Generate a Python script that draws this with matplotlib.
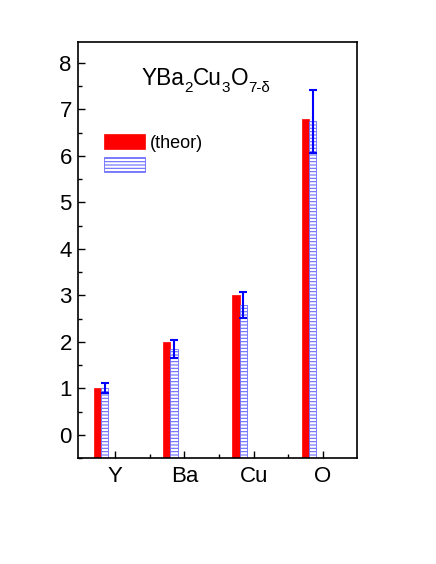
import matplotlib
matplotlib.use("Agg")
import matplotlib.pyplot as plt
from matplotlib.ticker import MultipleLocator, FixedLocator
import numpy as np

elements = ["Y", "Ba", "Cu", "O"]
theor = [1.0, 2.0, 3.0, 6.8]
measured = [1.0, 1.85, 2.80, 6.74]
measured_err = [0.11, 0.19, 0.28, 0.67]
title_parts = [("YBa", False), ("2", True), ("Cu", False), ("3", True), ("O", False), ("7-δ", True)]

plt.rcParams['font.family'] = ['Liberation Sans', 'DejaVu Sans']
plt.rcParams['hatch.linewidth'] = 0.8

W, H = 436, 564
fig = plt.figure(figsize=(W / 100, H / 100), dpi=100)
ax = fig.add_axes([78/W, 1-458/H, (357-78)/W, (458-42)/H])

ylo, yhi = -0.5, 8.45
x = np.arange(1, len(elements) + 1)
w = 0.107
theor_a = np.array(theor)
meas_a = np.array(measured)
ax.bar(x - 0.255, theor_a - ylo, bottom=ylo, width=w, color='#ff0000', edgecolor='#ff0000',
       linewidth=0.5, label='(theor)')
ax.bar(x - 0.15, meas_a - ylo, bottom=ylo, width=w, facecolor='white', edgecolor='#6a6aff',
       hatch='-----', linewidth=0.6, label=' ')
ax.errorbar(x - 0.15, measured, yerr=measured_err, fmt='none', ecolor='#0000ff',
            elinewidth=1.5, capsize=2.7, capthick=1.5)

ax.set_xlim(0.466, 4.49)
ax.set_ylim(ylo, yhi)
ax.yaxis.set_major_locator(MultipleLocator(1))
ax.yaxis.set_minor_locator(MultipleLocator(0.5))
ax.xaxis.set_major_locator(FixedLocator(x))
ax.xaxis.set_minor_locator(FixedLocator([1.5, 2.5, 3.5]))
ax.set_xticklabels(elements)
ax.tick_params(which='both', direction='in', top=False, right=False, labelsize=16, width=1)
ax.tick_params(which='major', length=5)
ax.tick_params(which='minor', length=3)
ax.tick_params(axis='x', pad=6)
ax.tick_params(axis='y', pad=4.5)
for s in ax.spines.values():
    s.set_linewidth(1.2)

leg = ax.legend(loc='upper left', bbox_to_anchor=(0.093, 0.779), frameon=False, fontsize=13,
                handlelength=2.27, handleheight=0.9, handletextpad=0.3, labelspacing=0.3,
                borderaxespad=0, borderpad=0)

# chemical formula title, built piece by piece with lowered subscripts
fig.canvas.draw()
renderer = fig.canvas.get_renderer()
xpx, base = 141.7, H - 85
for txt, sub in title_parts:
    t = fig.text(xpx / W, (base - (6.5 if sub else 0)) / H, txt,
                 fontsize=11 if sub else 16.3, ha='left', va='baseline')
    xpx += t.get_window_extent(renderer).width

fig.savefig('out.png', dpi=100)
